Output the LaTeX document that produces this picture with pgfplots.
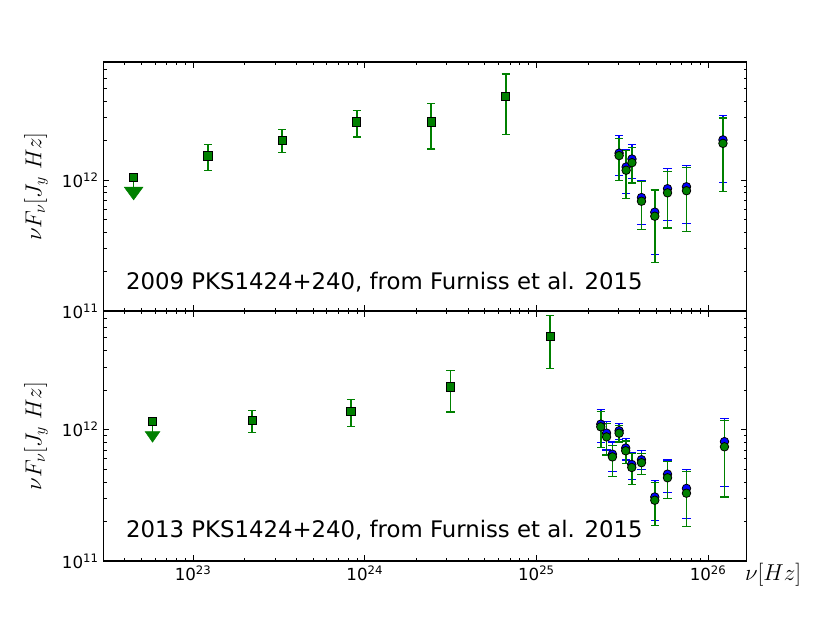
\documentclass[border=0pt]{standalone}
\usepackage{fontspec}
\setmainfont{DejaVu Sans}
\usepackage{pgfplots}
\pgfplotsset{compat=1.18}
\usepackage{pgfplotstable}
\definecolor{mplgreen}{rgb}{0,0.5,0}
\definecolor{mplblue}{rgb}{0,0,1}

% ---------- 2009 data ----------
\pgfplotstableread{
x y ep em
1.22e23 1.53e12 0.33e12 0.34e12
3.3e23 2.02e12 0.41e12 0.39e12
8.97e23 2.79e12 0.64e12 0.65e12
2.44e24 2.79e12 1.09e12 1.06e12
6.62e24 4.37e12 2.10e12 2.15e12
}\topsq
\pgfplotstableread{
x y ep em
3.03e25 1.61e12 0.57e12 0.53e12
3.33e25 1.26e12 0.45e12 0.475e12
3.6e25 1.45e12 0.41e12 0.42e12
4.09e25 7.36e11 2.64e11 2.76e11
4.89e25 5.69e11 2.81e11 2.97e11
5.8e25 8.6e11 3.6e11 3.69e11
7.48e25 8.9e11 4.1e11 4.21e11
1.22e26 2.03e12 1.09e12 1.064e12
}\topblue
\pgfplotstableread{
x y ep em
3.03e25 1.54e12 0.55e12 0.54e12
3.33e25 1.19e12 0.50e12 0.47e12
3.6e25 1.36e12 0.42e12 0.41e12
4.09e25 6.9e11 2.8e11 2.73e11
4.89e25 5.3e11 3.1e11 2.95e11
5.8e25 8.0e11 3.7e11 3.7e11
7.48e25 8.3e11 4.2e11 4.23e11
1.22e26 1.91e12 1.07e12 1.09e12
}\topgreen

% ---------- 2013 data ----------
\pgfplotstableread{
x y ep em
2.21e23 1.17e12 0.23e12 0.22e12
8.3e23 1.37e12 0.32e12 0.32e12
3.16e24 2.11e12 0.71e12 0.75e12
1.2e25 5.15e12 2.23e12 2.24e12
}\botsq
\pgfplotstableread{
x y ep em
2.37e25 1.10e12 0.32e12 0.305e12
2.56e25 9.4e11 2.1e11 2.4e11
2.77e25 6.5e11 1.55e11 1.7e11
3.03e25 9.8e11 1.4e11 1.35e11
3.31e25 7.24e11 1.36e11 1.37e11
3.59e25 5.43e11 1.27e11 1.23e11
4.09e25 5.9e11 1.0e11 0.92e11
4.89e25 3.07e11 1.05e11 1.03e11
5.8e25 4.58e11 1.29e11 1.26e11
7.48e25 3.57e11 1.41e11 1.47e11
1.245e26 8.1e11 4.1e11 4.4e11
}\botblue
\pgfplotstableread{
x y ep em
2.37e25 1.05e12 0.32e12 0.32e12
2.56e25 8.8e11 2.3e11 2.4e11
2.77e25 6.2e11 1.4e11 1.8e11
3.03e25 9.4e11 1.3e11 1.35e11
3.31e25 6.9e11 1.3e11 1.4e11
3.59e25 5.15e11 1.45e11 1.35e11
4.09e25 5.6e11 1.0e11 1.02e11
4.89e25 2.9e11 1.05e11 1.05e11
5.8e25 4.3e11 1.4e11 1.31e11
7.48e25 3.28e11 1.49e11 1.44e11
1.245e26 7.4e11 4.3e11 4.33e11
}\botgreen

\pgfplotsset{
  every axis/.append style={
    xmode=log, ymode=log, scale only axis, width=482.55pt,
    xmin=3e22, xmax=1.68e26, ymin=1e11, ymax=8e12,
    xtick={1e23,1e24,1e25,1e26},
    minor xtick={4e22,5e22,6e22,7e22,8e22,9e22,2e23,3e23,4e23,5e23,6e23,7e23,8e23,9e23,2e24,3e24,4e24,5e24,6e24,7e24,8e24,9e24,2e25,3e25,4e25,5e25,6e25,7e25,8e25,9e25},
    ytick={1e11,1e12},
    minor ytick={2e11,3e11,4e11,5e11,6e11,7e11,8e11,9e11,2e12,3e12,4e12,5e12,6e12,7e12,8e12},
    yticklabels={10\textsuperscript{11},10\textsuperscript{12}},
    tick label style={font=\fontsize{12.5}{15}\selectfont},
    major tick length=4.4pt, minor tick length=2.4pt,
    tick style={black, line width=0.5pt},
    axis line style={line width=0.8pt},
    tick align=inside,
    ylabel={$\nu F_\nu[J_y\ Hz]$},
    ylabel style={font=\fontsize{16.5}{20}\selectfont, at={(axis description cs:-0.1046,0.5)}, anchor=center},
  },
}

\begin{document}
\begin{tikzpicture}
\path[use as bounding box] (0,0) rectangle (622.5pt,467.25pt);

% ---------------- top panel (2009) ----------------
\begin{axis}[at={(77.5pt,420.75pt)}, anchor=north west, height=186.75pt,
  xticklabels={}]
  \addplot[mplgreen, line width=1.2pt] coordinates {(4.5e22,1.05e12) (4.5e22,8.2e11)};
  \addplot[only marks, mark=triangle*, mark size=6.35pt,
    mark options={rotate=180, xscale=1.27, fill=mplgreen, draw=mplgreen}] coordinates {(4.5e22,8.2e11)};
  \addplot[only marks, mark=square*, mark size=3.1pt,
    mark options={fill=mplgreen, draw=black, line width=0.6pt}] coordinates {(4.5e22,1.05e12)};
  \addplot[only marks, mark=square*, mark size=3.1pt,
    mark options={fill=mplgreen, draw=black, line width=0.6pt},
    error bars/.cd, y dir=both, y explicit,
    error bar style={mplgreen, line width=1.3pt},
    error mark options={rotate=90, mark size=3.1pt, line width=0.9pt, mplgreen}]
    table[x=x, y=y, y error plus=ep, y error minus=em] {\topsq};
  \addplot[only marks, mark=*, mark size=3.2pt,
    mark options={fill=mplblue, draw=black, line width=0.6pt},
    error bars/.cd, y dir=both, y explicit,
    error bar style={mplblue, line width=1.3pt},
    error mark options={rotate=90, mark size=3.1pt, line width=0.9pt, mplblue}]
    table[x=x, y=y, y error plus=ep, y error minus=em] {\topblue};
  \addplot[only marks, mark=*, mark size=3.2pt,
    mark options={fill=mplgreen, draw=black, line width=0.6pt},
    error bars/.cd, y dir=both, y explicit,
    error bar style={mplgreen, line width=1.3pt},
    error mark options={rotate=90, mark size=3.1pt, line width=0.9pt, mplgreen}]
    table[x=x, y=y, y error plus=ep, y error minus=em] {\topgreen};
  \node[anchor=base west, font=\fontsize{17.1}{20}\selectfont, inner sep=0pt]
    at (rel axis cs:0.035,0.088) {2009 PKS1424+240, from Furniss et al. 2015};
\end{axis}

% ---------------- bottom panel (2013) ----------------
\begin{axis}[at={(77.5pt,234pt)}, anchor=north west, height=187.5pt,
  xticklabels={10\textsuperscript{23},10\textsuperscript{24},10\textsuperscript{25},10\textsuperscript{26}},
  xlabel={$\nu[Hz]$},
  xlabel style={font=\fontsize{16.5}{20}\selectfont, at={(axis description cs:1.041,-0.056)}, anchor=center}]
  \addplot[mplgreen, line width=1.2pt] coordinates {(5.8e22,1.15e12) (5.8e22,9.08e11)};
  \addplot[only marks, mark=triangle*, mark size=5.3pt,
    mark options={rotate=180, xscale=1.2, fill=mplgreen, draw=mplgreen}] coordinates {(5.8e22,9.08e11)};
  \addplot[only marks, mark=square*, mark size=3.1pt,
    mark options={fill=mplgreen, draw=black, line width=0.6pt}] coordinates {(5.8e22,1.15e12)};
  \addplot[only marks, mark=square*, mark size=3.1pt,
    mark options={fill=mplgreen, draw=black, line width=0.6pt},
    error bars/.cd, y dir=both, y explicit,
    error bar style={mplgreen, line width=1.3pt},
    error mark options={rotate=90, mark size=3.1pt, line width=0.9pt, mplgreen}]
    table[x=x, y=y, y error plus=ep, y error minus=em] {\botsq};
  \addplot[only marks, mark=*, mark size=3.2pt,
    mark options={fill=mplblue, draw=black, line width=0.6pt},
    error bars/.cd, y dir=both, y explicit,
    error bar style={mplblue, line width=1.3pt},
    error mark options={rotate=90, mark size=3.1pt, line width=0.9pt, mplblue}]
    table[x=x, y=y, y error plus=ep, y error minus=em] {\botblue};
  \addplot[only marks, mark=*, mark size=3.2pt,
    mark options={fill=mplgreen, draw=black, line width=0.6pt},
    error bars/.cd, y dir=both, y explicit,
    error bar style={mplgreen, line width=1.3pt},
    error mark options={rotate=90, mark size=3.1pt, line width=0.9pt, mplgreen}]
    table[x=x, y=y, y error plus=ep, y error minus=em] {\botgreen};
  \node[anchor=base west, font=\fontsize{17.1}{20}\selectfont, inner sep=0pt]
    at (rel axis cs:0.035,0.093) {2013 PKS1424+240, from Furniss et al. 2015};
\end{axis}
\end{tikzpicture}
\end{document}
